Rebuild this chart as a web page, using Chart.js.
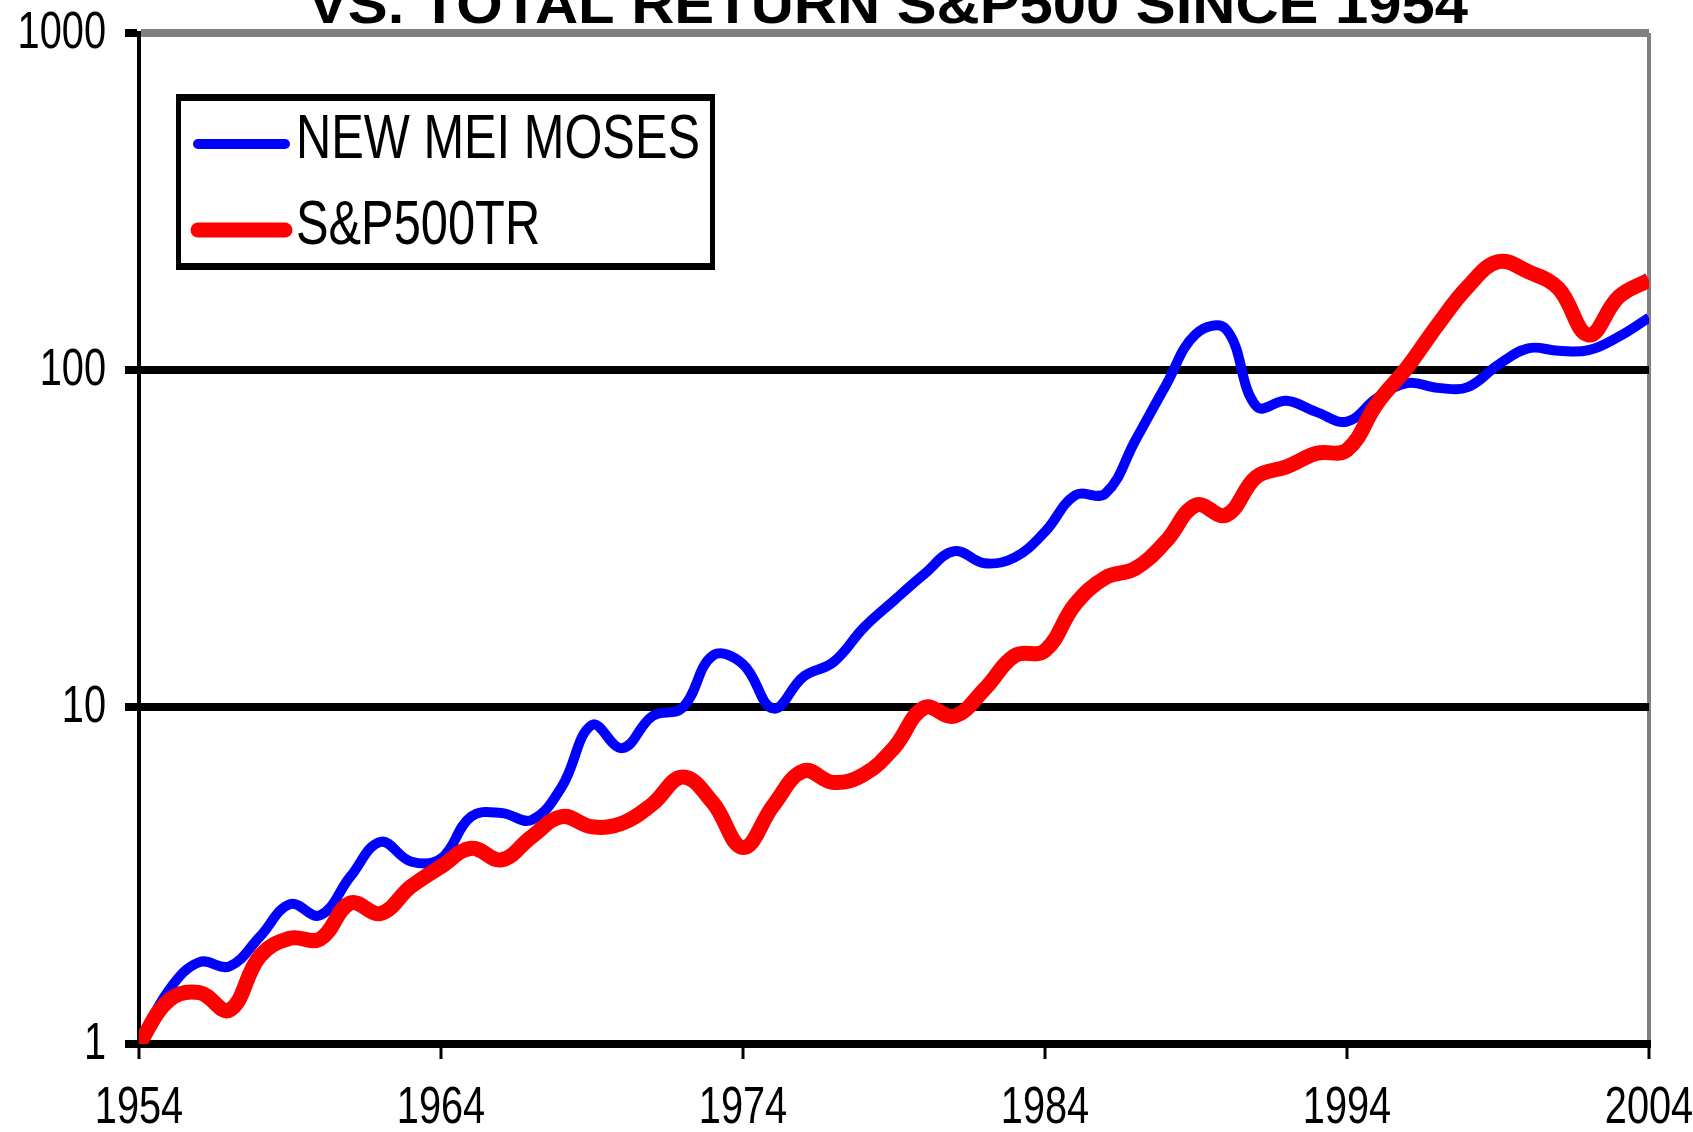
<!DOCTYPE html>
<html><head><meta charset="utf-8">
<script src="https://cdn.jsdelivr.net/npm/chart.js@4/dist/chart.umd.min.js"></script>
<style>html,body{margin:0;padding:0;background:#fff;overflow:hidden}#wrap{position:relative;width:1693px;height:1132px}</style>
</head><body><div id="wrap"><canvas id="c" width="1693" height="1132"></canvas></div>
<script>
const years = [1954,1955,1956,1957,1958,1959,1960,1961,1962,1963,1964,1965,1966,1967,1968,1969,1970,1971,1972,1973,1974,1975,1976,1977,1978,1979,1980,1981,1982,1983,1984,1985,1986,1987,1988,1989,1990,1991,1992,1993,1994,1995,1996,1997,1998,1999,2000,2001,2002,2003,2004];
const meiMoses = [1.0,1.45,1.75,1.70,2.08,2.60,2.41,3.14,3.98,3.48,3.55,4.73,4.85,4.62,5.8,8.85,7.55,9.4,9.95,14.2,13.4,9.9,12.3,13.6,17.2,20.7,24.8,29.0,26.7,27.8,33.1,42.5,43,62,90,128,132,78,81,75,70.3,82.6,91.5,88.5,89,103.5,116,114,114.5,125.6,143];
const sp500tr = [1.0,1.35,1.42,1.26,1.82,2.06,2.05,2.62,2.44,2.93,3.36,3.81,3.52,4.12,4.73,4.41,4.52,5.15,6.2,5.2,3.83,5.1,6.46,5.97,6.3,7.57,9.95,9.4,11.3,14.2,14.7,20.2,24.2,25.8,31,39.7,37.1,48.2,51.6,56.6,57.9,79.7,102,136,176.6,209.5,195.8,174.6,127,165,185];
const yTickValues = [1,10,100,1000];
const xTickValues = [1954,1964,1974,1984,1994,2004];
const seriesLabels = ['NEW MEI MOSES','S&P500TR'];
const titleText = 'VS. TOTAL RETURN S&P500 SINCE 1954';

const baseFont = "'Liberation Sans', Arial, sans-serif";

const titlePlugin = {
  id:'clippedTitle',
  afterDraw(chart){
    const ctx = chart.ctx;
    ctx.save();
    ctx.font = "bold 56px " + baseFont;
    ctx.fillStyle = '#000';
    ctx.textBaseline = 'alphabetic';
    ctx.textAlign = 'left';
    const w = ctx.measureText(titleText).width;
    ctx.translate(308, 23);
    ctx.scale(1160 / w, 1);
    ctx.fillText(titleText, 0, 0);
    ctx.restore();
  }
};

const axisLabelPlugin = {
  id:'axisLabels',
  afterDraw(chart){
    const ctx = chart.ctx, xs = chart.scales.x, ys = chart.scales.y, area = chart.chartArea;
    const sx = 0.765;
    ctx.save();
    ctx.font = "52px " + baseFont;
    ctx.fillStyle = '#000';
    ctx.textBaseline = 'middle';
    ys.ticks.forEach(t => {
      const y = ys.getPixelForValue(t.value);
      ctx.save();
      ctx.translate(area.left - 33, y + 1);
      ctx.scale(sx, 1);
      ctx.textAlign = 'right';
      ctx.fillText(String(t.value), 0, 0);
      ctx.restore();
    });
    xs.ticks.forEach(t => {
      const x = xs.getPixelForValue(t.value);
      ctx.save();
      ctx.translate(x, area.bottom + 65);
      ctx.scale(sx, 1);
      ctx.textAlign = 'center';
      ctx.fillText(String(t.value), 0, 0);
      ctx.restore();
    });
    ctx.restore();
  }
};

const legendPlugin = {
  id:'boxLegend',
  afterDatasetsDraw(chart){
    const ctx = chart.ctx;
    const L = 176, T = 94, R = 715, B = 270;
    ctx.save();
    ctx.fillStyle = '#fff';
    ctx.fillRect(L, T, R - L, B - T);
    ctx.fillStyle = '#000';
    ctx.fillRect(L, T, R - L, 7);
    ctx.fillRect(L, B - 7, R - L, 7);
    ctx.fillRect(L, T, 5, B - T);
    ctx.fillRect(R - 5, T, 5, B - T);
    const rows = [{y:141, ds:chart.data.datasets[0]}, {y:227, ds:chart.data.datasets[1]}];
    ctx.font = "63px " + baseFont;
    const sx = 404 / ctx.measureText(seriesLabels[0]).width;
    rows.forEach(r => {
      ctx.strokeStyle = r.ds.borderColor;
      ctx.lineWidth = r.ds.borderWidth;
      ctx.lineCap = 'round';
      ctx.beginPath();
      ctx.moveTo(198, r.y + 3);
      ctx.lineTo(285, r.y + 3);
      ctx.stroke();
      ctx.save();
      ctx.fillStyle = '#000';
      ctx.textBaseline = 'middle';
      ctx.textAlign = 'left';
      ctx.translate(296, r.y);
      ctx.scale(sx, 1);
      ctx.fillText(r.ds.label, 0, 0);
      ctx.restore();
    });
    ctx.restore();
  }
};

function zeroPad(s){ s.paddingTop = 0; s.paddingBottom = 0; s.paddingLeft = 0; s.paddingRight = 0; }

new Chart(document.getElementById('c'), {
  type:'line',
  data:{
    datasets:[
      {label:seriesLabels[0], data:years.map((y,i)=>({x:y,y:meiMoses[i]})), borderColor:'#0000ff', borderWidth:10, pointRadius:0, tension:0.4, fill:false, order:1},
      {label:seriesLabels[1], data:years.map((y,i)=>({x:y,y:sp500tr[i]})), borderColor:'#ff0000', borderWidth:15, pointRadius:0, tension:0.4, fill:false, order:0}
    ]
  },
  options:{
    responsive:false,
    devicePixelRatio:1,
    animation:false,
    layout:{padding:{top:33,right:44,left:0,bottom:0}},
    plugins:{legend:{display:false},title:{display:false},tooltip:{enabled:false}},
    scales:{
      x:{
        type:'linear', min:1954, max:2004,
        afterBuildTicks:s=>{ s.ticks = xTickValues.map(v=>({value:v})); },
        afterFit:s=>{ s.height = 88; zeroPad(s); },
        border:{display:true,color:'#000',width:8},
        grid:{color:c=>(c.tick && c.tick.value===2004)?'#808080':'rgba(0,0,0,0)', lineWidth:4, tickLength:15, tickColor:'#000', tickWidth:3},
        ticks:{display:false}
      },
      y:{
        type:'logarithmic', min:1, max:1000,
        afterBuildTicks:s=>{ s.ticks = yTickValues.map(v=>({value:v})); },
        afterFit:s=>{ s.width = 139; zeroPad(s); },
        border:{display:true,color:'#000',width:4},
        grid:{color:c=>(c.tick && c.tick.value===1000)?'#808080':'#000', lineWidth:8, tickLength:14, tickColor:'#000', tickWidth:8},
        ticks:{display:false}
      }
    }
  },
  plugins:[titlePlugin, axisLabelPlugin, legendPlugin]
});
</script>
</body></html>
